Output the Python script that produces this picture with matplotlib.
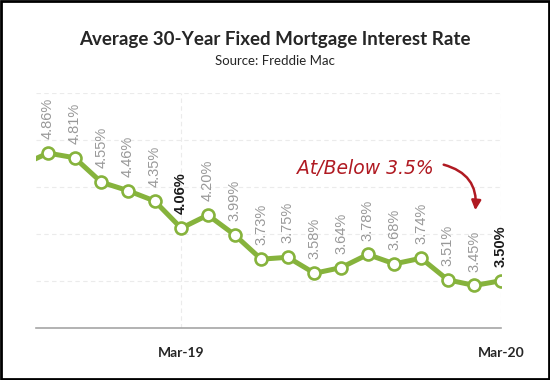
import matplotlib
matplotlib.use('Agg')
import matplotlib.pyplot as plt
from matplotlib.patches import Rectangle

# monthly averages (first point sits just outside the left edge)
months = ['Sep-18', 'Oct-18', 'Nov-18', 'Dec-18', 'Jan-19', 'Feb-19', 'Mar-19',
          'Apr-19', 'May-19', 'Jun-19', 'Jul-19', 'Aug-19', 'Sep-19', 'Oct-19',
          'Nov-19', 'Dec-19', 'Jan-20', 'Feb-20', 'Mar-20']
rates = [4.73, 4.86, 4.81, 4.55, 4.46, 4.35, 4.06, 4.20, 3.99, 3.73, 3.75,
         3.58, 3.64, 3.78, 3.68, 3.74, 3.51, 3.45, 3.50]
tick_months = ['Mar-19', 'Mar-20']
bold_months = ['Mar-19', 'Mar-20']

green = '#86b33c'
red = '#b01a22'

fig = plt.figure(figsize=(5.5, 3.8), dpi=100)
ax = fig.add_axes([36/550, 1-327.7/380, (501-36)/550, (327.7-93)/380])

x = list(range(-1, len(rates)-1))
ax.plot(x, rates, color=green, lw=3.6, marker='o', ms=8.6, mfc='white',
        mec=green, mew=1.9, zorder=3, clip_on=True)

for xi, m, v in zip(x, months, rates):
    if xi < 0:
        continue
    bold = m in bold_months
    ax.annotate(f'{v:.2f}%', (xi, v), xytext=(0, 10), textcoords='offset points',
                rotation=90, ha='center', va='bottom', fontsize=10.5,
                family='Liberation Sans',
                color='#1a1a1a' if bold else '#999999',
                fontweight='bold' if bold else 'normal', annotation_clip=False)

ax.set_xlim(-0.45, len(rates)-2)
ax.set_ylim(3.0, 5.5)
ax.set_yticks([3.5, 4.0, 4.5, 5.0, 5.5])
ax.yaxis.grid(True, ls=(0, (4, 3)), color='#ebebeb', lw=0.8)
ax.set_xticks([x[months.index(m)] for m in tick_months])
ax.set_xticklabels(tick_months, fontsize=10, fontweight='bold', color='#262626',
                   family='Lato')
ax.xaxis.grid(True, ls=(0, (4, 3)), color='#ebebeb', lw=0.8)
ax.tick_params(axis='x', length=0, pad=14)
ax.tick_params(axis='y', length=0, labelleft=False)
ax.set_axisbelow(True)
for s in ['top', 'right', 'left']:
    ax.spines[s].set_visible(False)
ax.spines['bottom'].set_color('#a6a6a6')
ax.spines['bottom'].set_linewidth(1.2)

fig.text(0.5, 1-39/380, 'Average 30-Year Fixed Mortgage Interest Rate',
         ha='center', va='center', fontsize=13.5, fontweight='bold',
         color='#262626', family='Lato')
fig.text(0.5, 1-61/380, 'Source: Freddie Mac', ha='center', va='center',
         fontsize=9.5, color='#262626', family='Lato')

# handwritten-style note
fig.text(365/550, 1-168/380, 'At/Below 3.5%', ha='center', va='center',
         fontsize=13.5, color=red, style='italic', family='DejaVu Sans')
ax.annotate('', xy=(475/550, 1-213/380), xycoords='figure fraction',
            xytext=(441/550, 1-164/380), textcoords='figure fraction',
            arrowprops=dict(arrowstyle='-|>', color=red, lw=1.8,
                            connectionstyle='arc3,rad=-0.45', mutation_scale=14))

fig.add_artist(Rectangle((0.002, 0.003), 0.996, 0.994, transform=fig.transFigure,
                         fill=False, edgecolor='black', lw=2))

fig.savefig('out.png', dpi=100)
